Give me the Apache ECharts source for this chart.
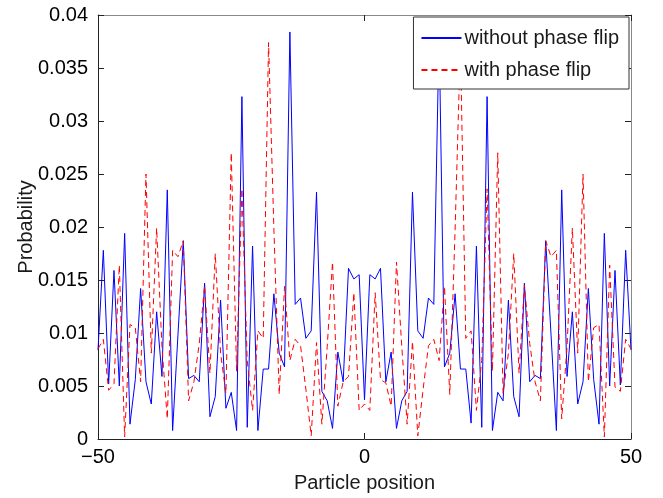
<!DOCTYPE html>
<html>
<head>
<meta charset="utf-8">
<script src="https://cdn.jsdelivr.net/npm/echarts@6/dist/echarts.min.js"></script>
<style>
html,body{margin:0;padding:0;background:#fff;}
#chart{width:663px;height:498px;}
</style>
</head>
<body>
<div id="chart"></div>
<script>
// Particle positions -50..50
var positions = [];
for (var p = -50; p <= 50; p++) positions.push(p);

var withoutFlip = [
  0.0084,0.0178,0.0052,0.0159,0.0050,0.0194,0.0014,0.0056,0.0142,0.0054,
  0.0033,0.0120,0.0059,0.0235,0.0008,0.0098,0.0187,0.0057,0.0060,0.0054,
  0.0147,0.0021,0.0040,0.0131,0.0029,0.0044,0.0008,0.0323,0.0011,0.0182,
  0.0008,0.0066,0.0066,0.0137,0.0081,0.0068,0.0384,0.0127,0.0133,0.0095,
  0.0102,0.0233,0.0045,0.0036,0.0010,0.0082,0.0054,0.0161,0.0151,0.0155,
  0.0037,
  0.0155,0.0151,0.0161,0.0054,0.0082,0.0010,0.0036,0.0045,0.0233,0.0102,
  0.0095,0.0133,0.0127,0.0384,0.0068,0.0081,0.0137,0.0066,0.0066,0.0015,
  0.0182,0.0011,0.0323,0.0008,0.0044,0.0036,0.0131,0.0040,0.0021,0.0147,
  0.0054,0.0060,0.0057,0.0187,0.0098,0.0008,0.0235,0.0059,0.0120,0.0033,
  0.0054,0.0142,0.0056,0.0014,0.0194,0.0050,0.0159,0.0051,0.0178,0.0084
];

var withFlip = [
  0.0085,0.0094,0.0046,0.0052,0.0164,0.0002,0.0108,0.0105,0.0054,0.0250,
  0.0081,0.0199,0.0087,0.0019,0.0178,0.0172,0.0187,0.0036,0.0054,0.0090,
  0.0145,0.0062,0.0175,0.0081,0.0043,0.0270,0.0064,0.0236,0.0074,0.0027,
  0.0102,0.0095,0.0374,0.0198,0.0042,0.0144,0.0074,0.0094,0.0088,0.0047,
  0.0003,0.0091,0.0014,0.0087,0.0167,0.0031,0.0054,0.0059,0.0138,0.0027,
  0.0033,
  0.0027,0.0138,0.0056,0.0053,0.0031,0.0167,0.0087,0.0014,0.0092,0.0003,
  0.0047,0.0088,0.0094,0.0074,0.0144,0.0042,0.0198,0.0374,0.0095,0.0102,
  0.0027,0.0074,0.0236,0.0064,0.0270,0.0043,0.0081,0.0175,0.0062,0.0145,
  0.0090,0.0054,0.0036,0.0187,0.0172,0.0178,0.0019,0.0087,0.0199,0.0081,
  0.0250,0.0054,0.0105,0.0108,0.0002,0.0164,0.0049,0.0045,0.0094,0.0085
];

var seriesNames = ['without phase flip', 'with phase flip'];

function pairs(vals) {
  return positions.map(function (x, i) { return [x, vals[i]]; });
}

var FONT = "'Liberation Sans', Arial, Helvetica, sans-serif";
var chart = echarts.init(document.getElementById('chart'), null, {renderer: 'canvas'});

var tickStyle = {show: true, inside: true, length: 6, lineStyle: {color: '#222', width: 1}};

chart.setOption({
  animation: false,
  backgroundColor: '#fff',
  grid: {left: 98, right: 32, top: 15, bottom: 51, containLabel: false},
  legend: {
    show: true,
    data: seriesNames,
    orient: 'vertical',
    right: 34,
    top: 17,
    itemWidth: 40,
    itemHeight: 12,
    itemGap: 10,
    padding: [10, 10, 8, 7],
    backgroundColor: '#fff',
    borderColor: '#333',
    borderWidth: 1,
    borderRadius: 0,
    z: 10,
    itemStyle: {color: 'transparent', borderWidth: 0, opacity: 0},
    textStyle: {fontFamily: FONT, fontSize: 20, color: '#1a1a1a', lineHeight: 22, padding: [0, 0, 0, -2]}
  },
  xAxis: [{
    type: 'value', min: -50, max: 50, interval: 50,
    position: 'bottom',
    name: 'Particle position', nameLocation: 'middle', nameGap: 34,
    nameMoveOverlap: false,
    nameTextStyle: {fontFamily: FONT, fontSize: 20, color: '#1a1a1a'},
    axisLine: {show: true, onZero: false, lineStyle: {color: '#222', width: 1}},
    axisTick: tickStyle,
    axisLabel: {fontFamily: FONT, fontSize: 20, color: '#000', margin: 8,
      formatter: function (v) { return v < 0 ? '\u2212' + Math.abs(v) : String(v); }},
    splitLine: {show: false}
  }, {
    type: 'value', min: -50, max: 50, interval: 50,
    position: 'top',
    axisLine: {show: true, onZero: false, lineStyle: {color: '#888', width: 1}},
    axisTick: tickStyle,
    axisLabel: {show: false},
    splitLine: {show: false}
  }],
  yAxis: [{
    type: 'value', min: 0, max: 0.04, interval: 0.005,
    position: 'left',
    name: 'Probability', nameLocation: 'middle', nameGap: 62, nameRotate: 90,
    nameMoveOverlap: false,
    nameTextStyle: {fontFamily: FONT, fontSize: 20, color: '#1a1a1a'},
    axisLine: {show: true, onZero: false, lineStyle: {color: '#222', width: 1}},
    axisTick: tickStyle,
    axisLabel: {fontFamily: FONT, fontSize: 20, color: '#000', margin: 10,
      formatter: function (v) { return String(parseFloat(v.toFixed(3))); }},
    splitLine: {show: false}
  }, {
    type: 'value', min: 0, max: 0.04, interval: 0.005,
    position: 'right',
    axisLine: {show: true, onZero: false, lineStyle: {color: '#888', width: 1}},
    axisTick: tickStyle,
    axisLabel: {show: false},
    splitLine: {show: false}
  }],
  series: [{
    name: seriesNames[0],
    type: 'line',
    xAxisIndex: 0, yAxisIndex: 0,
    data: pairs(withoutFlip),
    showSymbol: false, symbol: 'none',
    lineStyle: {color: '#0000ff', width: 1},
    itemStyle: {color: '#0000ff'}
  }, {
    name: seriesNames[1],
    type: 'line',
    xAxisIndex: 0, yAxisIndex: 0,
    data: pairs(withFlip),
    showSymbol: false, symbol: 'none',
    lineStyle: {color: '#ff0000', width: 1, type: [6, 4]},
    itemStyle: {color: '#ff0000'}
  }]
});
</script>
</body>
</html>
